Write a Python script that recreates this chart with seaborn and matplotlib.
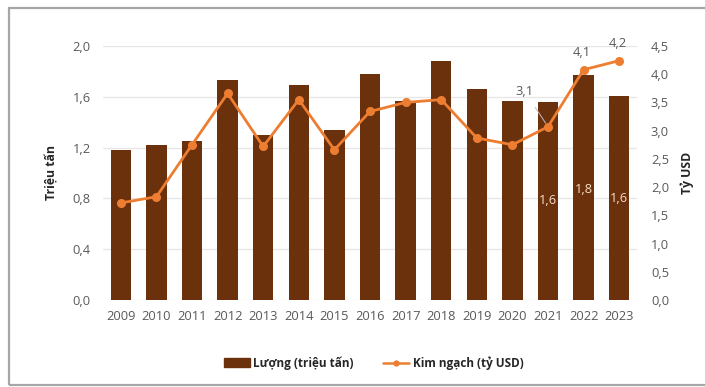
import matplotlib
matplotlib.use("Agg")
import matplotlib.pyplot as plt
from matplotlib.patches import Rectangle
from matplotlib.lines import Line2D
import seaborn as sns
import numpy as np
import pandas as pd

years = ["2009", "2010", "2011", "2012", "2013", "2014", "2015", "2016",
         "2017", "2018", "2019", "2020", "2021", "2022", "2023"]
volume = [1.18, 1.22, 1.25, 1.73, 1.30, 1.69, 1.34, 1.78,
          1.57, 1.88, 1.66, 1.57, 1.56, 1.77, 1.61]
value = [1.72, 1.83, 2.75, 3.66, 2.72, 3.55, 2.66, 3.34,
         3.50, 3.55, 2.87, 2.75, 3.07, 4.08, 4.24]
left_ticks = [0.0, 0.4, 0.8, 1.2, 1.6, 2.0]
right_ticks = [0.0, 0.5, 1.0, 1.5, 2.0, 2.5, 3.0, 3.5, 4.0, 4.5]
bar_label_years = ["2021", "2022", "2023"]
line_label_years = ["2021", "2022", "2023"]
y_left_label = "Triệu tấn"
y_right_label = "Tỷ USD"
legend_bar = "Lượng (triệu tấn)"
legend_line = "Kim ngạch (tỷ USD)"

sns.set_theme(style="white")
plt.rcParams["font.family"] = ["Open Sans", "DejaVu Sans"]

BAR = "#6B300C"
ORANGE = "#ED7D31"
TXT = "#595959"
FS = 9.3

df = pd.DataFrame({"year": years, "volume": volume, "value": value})

fig = plt.figure(figsize=(7.05, 3.87), dpi=100)
fig.patches.append(Rectangle((9 / 705, 2 / 387), 1.2, 377 / 387,
                             transform=fig.transFigure, fill=False,
                             edgecolor="#a6a6a6", linewidth=1.6))

ax = fig.add_axes([103 / 705, 1 - 300 / 387, 534 / 705, 254 / 387])
sns.barplot(data=df, x="year", y="volume", ax=ax, color=BAR, width=0.57,
            saturation=1, edgecolor="none")
ax.set_ylim(0, 2.0)
ax.set_xlim(-0.5, len(years) - 0.5)
ax.set_yticks(left_ticks)
ax.set_yticklabels([f"{t:.1f}".replace(".", ",") for t in left_ticks])
ax.yaxis.grid(True, color="#e6e6e6", linewidth=0.9)
ax.set_axisbelow(True)
for s in ax.spines.values():
    s.set_visible(False)
ax.tick_params(axis="both", length=0, colors=TXT, labelsize=FS)
ax.tick_params(axis="y", pad=9)
ax.tick_params(axis="x", pad=7)
ax.set_xlabel("")
ax.set_ylabel(y_left_label, color="#262626", fontsize=8.8, fontweight="bold", labelpad=10)

ax2 = ax.twinx()
sns.pointplot(data=df, x="year", y="value", ax=ax2, color=ORANGE,
              markers="o", markersize=5, linewidth=2)
ax2.set_ylim(0, 4.5)
ax2.set_xlim(-0.5, len(years) - 0.5)
ax2.set_yticks(right_ticks)
ax2.set_yticklabels([f"{t:.1f}".replace(".", ",") for t in right_ticks])
for s in ax2.spines.values():
    s.set_visible(False)
ax2.tick_params(axis="y", length=0, colors=TXT, labelsize=FS, pad=10)
ax2.set_ylabel(y_right_label, color="#262626", fontsize=8.8, fontweight="bold", labelpad=8)
ax2.grid(False)

fmt = lambda v: f"{v:.1f}".replace(".", ",")

# labels inside bars
inbar_y = {"2021": 0.78, "2022": 0.87, "2023": 0.80}
for yr in bar_label_years:
    i = years.index(yr)
    ax.text(i, inbar_y[yr], fmt(volume[i]), ha="center", va="center",
            color="#f6dcc4", fontsize=FS)

# labels above line
for yr in line_label_years:
    i = years.index(yr)
    if yr == "2021":
        ax2.annotate(fmt(value[i]), xy=(i, value[i]), xytext=(i - 0.65, value[i] + 0.62),
                     ha="center", va="center", color=TXT, fontsize=FS,
                     arrowprops=dict(arrowstyle="-", color="#bfbfbf", lw=0.7,
                                     shrinkA=5, shrinkB=3))
    else:
        ax2.text(i - 0.05, value[i] + 0.3, fmt(value[i]), ha="center", va="center",
                 color=TXT, fontsize=FS)

handles = [Rectangle((0, 0), 1, 1, color=BAR),
           Line2D([0], [0], color=ORANGE, lw=1.8, marker="o", markersize=3.5)]
fig.legend(handles, [legend_bar, legend_line], loc="center",
           bbox_to_anchor=(0.53, 1 - 363 / 387), ncol=2, frameon=False,
           handlelength=2.2, columnspacing=2.5, handletextpad=0.3,
           prop={"weight": "bold", "size": 8.5}, labelcolor="#262626")

fig.savefig("out.png", dpi=100)
